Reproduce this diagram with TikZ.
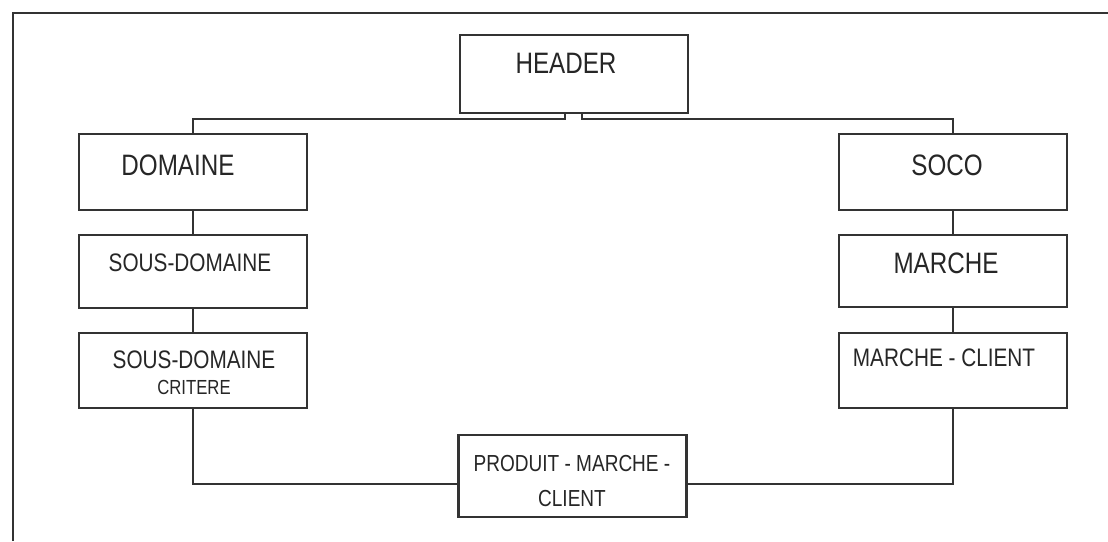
\documentclass[tikz,border=0pt]{standalone}
\usepackage{fontspec}
\setmainfont{Liberation Sans}[FakeStretch=0.82]
\usepackage{tikz}
\usetikzlibrary{positioning}

\begin{document}
\begin{tikzpicture}[x = 0.025cm, y = -0.025cm,
  ink/.style = {draw = black!80, line width = 1.6pt},
  entity/.style = {ink, rectangle, minimum width = 5.7cm, inner sep = 0pt},
  big/.style = {text = black!85, inner sep = 0pt, font = \fontsize{21}{24}\selectfont},
  mid/.style = {text = black!85, inner sep = 0pt, font = \fontsize{18}{21}\selectfont},
  small/.style = {text = black!85, inner sep = 0pt, font = \fontsize{14.5}{17}\selectfont}]
\fill[white] (0,0) rectangle (1108,541);
\useasboundingbox (0,0) rectangle (1108,541);
\draw[draw = black!80, line width = 1.8pt] (13,541) -- (13,13) -- (1108,13);
\node[entity, minimum height = 1.95cm] (header) at (574,74) {};
\node[entity, minimum height = 1.9cm] (domaine) at (193,172) {};
\node[entity, minimum height = 1.83cm] (sousdom) at (193,271.5) {};
\node[entity, minimum height = 1.88cm] (critere) at (193,370.5) {};
\node[entity, minimum height = 1.9cm] (soco) at (953,172) {};
\node[entity, minimum height = 1.8cm] (marche) at (953,271) {};
\node[entity, minimum height = 1.88cm] (mclient) at (953,370.5) {};
\node[entity, minimum height = 2.05cm] (pmc) at (572.5,476) {};
\node[big] (header-t) at (566,63) {HEADER};
\node[big] (domaine-t) at (178,165) {DOMAINE};
\node[big] (soco-t) at (947,165) {SOCO};
\node[mid] (sousdom-t) at (190,263) {SOUS-DOMAINE};
\node[big] (marche-t) at (946,263) {MARCHE};
\node[mid] (critere-t) at (194,360) {SOUS-DOMAINE};
\node[small, below = 13pt of critere-t.south, anchor = center] (critere-t2) {CRITERE};
\node[mid] (mclient-t) at (944,358) {MARCHE - CLIENT};
\node[mid, font = \fontsize{16.5}{20}\selectfont] (pmc-t) at (572,464) {PRODUIT - MARCHE -};
\node[mid, font = \fontsize{16.5}{20}\selectfont, below = 18.5pt of pmc-t.south, anchor = center] (pmc-t2) {CLIENT};
\coordinate (hl) at (565,119);
\coordinate (hr) at (582,119);
\coordinate (low) at (0,484);
\draw[ink] (header.south -| hl) -- (hl) -| (domaine.north);
\draw[ink] (header.south -| hr) -- (hr) -| (soco.north);
\draw[ink] (domaine) -- (sousdom);
\draw[ink] (sousdom) -- (critere);
\draw[ink] (soco) -- (marche);
\draw[ink] (marche) -- (mclient);
\draw[ink] (critere.south) -- (critere.south |- low) -- (pmc.west |- low);
\draw[ink] (mclient.south) -- (mclient.south |- low) -- (pmc.east |- low);
\end{tikzpicture}
\end{document}
